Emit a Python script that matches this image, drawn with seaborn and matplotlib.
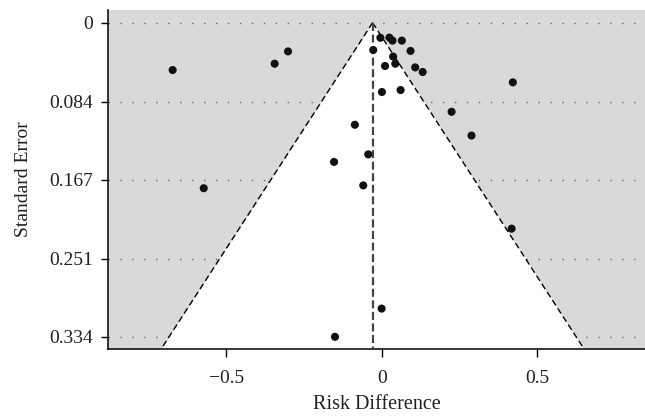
import numpy as np
import pandas as pd
import matplotlib
matplotlib.use("Agg")
import matplotlib.pyplot as plt
import seaborn as sns

# Data
risk_diff = [-0.673, -0.345, -0.302, -0.573,
             -0.005, 0.024, 0.034, 0.064, -0.028, 0.092, 0.036, 0.043, 0.010,
             0.107, 0.131, 0.000, 0.060,
             0.421, 0.224, 0.288, -0.087, -0.044, -0.154, -0.060,
             0.417, -0.001, -0.151]
std_err = [0.0503, 0.0436, 0.0305, 0.176,
           0.016, 0.0158, 0.019, 0.019, 0.029, 0.030, 0.036, 0.0436, 0.046,
           0.0475, 0.0524, 0.0737, 0.0716,
           0.0634, 0.0947, 0.120, 0.1085, 0.140, 0.148, 0.173,
           0.219, 0.304, 0.334]
pooled = -0.03
y_ticks = [0, 0.084, 0.167, 0.251, 0.334]
y_ticklabels = ["0", "0.084", "0.167", "0.251", "0.334"]
x_ticks = [-0.5, 0, 0.5]
x_ticklabels = ["\u22120.5", "0", "0.5"]

df = pd.DataFrame({"Risk Difference": risk_diff, "Standard Error": std_err})

sns.set_style("white")
plt.rcParams["font.family"] = ["Liberation Serif", "DejaVu Serif"]

fig = plt.figure(figsize=(6.45, 4.18), dpi=100)
ax = fig.add_axes([0.1674, 0.165, 0.8326, 0.811])
ax.set_facecolor("#d9d9d9")

ymin, ymax = -0.0135, 0.347
xmin, xmax = -0.881, 0.846

# dotted grid lines
for yt in y_ticks:
    ax.axhline(yt, color="#666666", lw=1.0, linestyle=(0, (1, 7.6)), zorder=1)

# funnel (95% pseudo confidence limits)
se_line = np.array([0.0, ymax])
left = pooled - 1.96 * se_line
right = pooled + 1.96 * se_line
ax.fill_betweenx(se_line, left, right, color="white", zorder=2, lw=0)
ax.plot(left, se_line, color="black", lw=1.0, linestyle=(0, (4.5, 2.5)), zorder=3)
ax.plot(right, se_line, color="black", lw=1.0, linestyle=(0, (4.5, 2.5)), zorder=3)
ax.plot([pooled, pooled], [0, ymax], color="#444444", lw=1.6,
        linestyle=(0, (3.6, 1.6)), zorder=3)

sns.scatterplot(data=df, x="Risk Difference", y="Standard Error", ax=ax,
                color="#111111", s=34, edgecolor="none", zorder=4)

ax.set_xlim(xmin, xmax)
ax.set_ylim(ymax, ymin)
ax.set_yticks(y_ticks)
ax.set_yticklabels(y_ticklabels)
ax.set_xticks(x_ticks)
ax.set_xticklabels(x_ticklabels)
ax.tick_params(axis="both", direction="out", length=5, width=1, color="black",
               labelsize=14, labelcolor="#231f20", left=True, bottom=True)
ax.tick_params(axis="x", pad=9, length=6)
ax.tick_params(axis="y", pad=6)
for s in ["top", "right"]:
    ax.spines[s].set_visible(False)
for s in ["left", "bottom"]:
    ax.spines[s].set_color("black")
    ax.spines[s].set_linewidth(1.1)
ax.set_xlabel("Risk Difference", fontsize=14.5, color="#231f20", labelpad=6)
ax.set_ylabel("Standard Error", fontsize=14, color="#231f20", labelpad=12)

fig.savefig("out.png", dpi=100)
